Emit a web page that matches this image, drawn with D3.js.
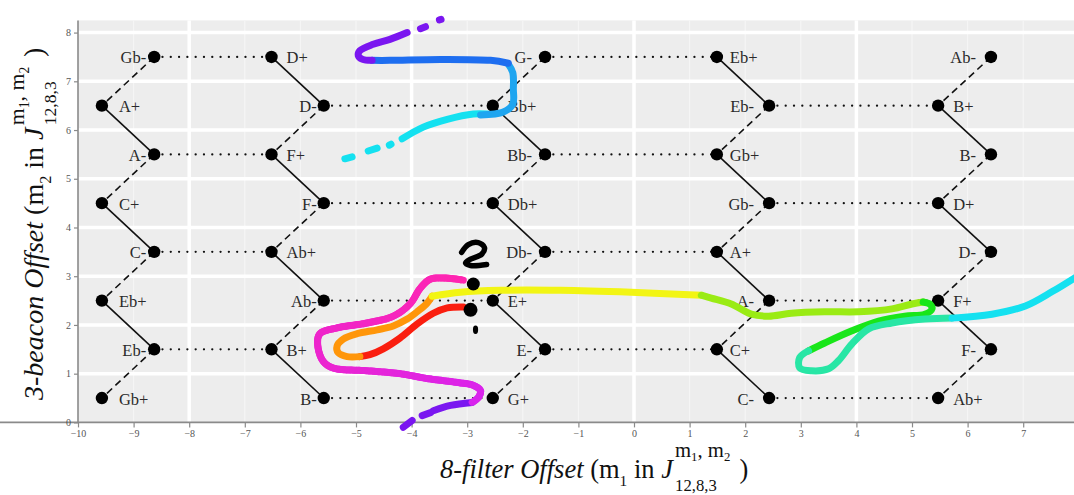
<!DOCTYPE html>
<html><head><meta charset="utf-8">
<script src="https://cdn.jsdelivr.net/npm/d3@7"></script>
<style>body{margin:0;background:#fff;} svg{display:block;}</style>
</head><body>
<svg id="chart" width="1074" height="495"></svg>
<script>
// ---------------- data ----------------
const xTickValues = [-10,-9,-8,-7,-6,-5,-4,-3,-2,-1,0,1,2,3,4,5,6,7];
const yTickValues = [0,1,2,3,4,5,6,7,8];
const xMajorGrid = [-8,-4,0,4];
const yGrid = [1,2,3,4,5,6,7,8];

const nodeLabels = ["A+","C+","Eb+","Gb+", "Gb-","A-","C-","Eb-",
  "D+","F+","Ab+","B+", "D-","F-","Ab-","B-",
  "Bb+","Db+","E+","G+", "G-","Bb-","Db-","E-",
  "Eb+","Gb+","A+","C+", "Eb-","Gb-","A-","C-",
  "B+","D+","F+","Ab+", "Ab-","B-","D-","F-"];
const nodeX = [-9.57,-9.57,-9.57,-9.57, -8.63,-8.63,-8.63,-8.63,
  -6.52,-6.52,-6.52,-6.52, -5.58,-5.58,-5.58,-5.58,
  -2.54,-2.54,-2.54,-2.54, -1.60,-1.60,-1.60,-1.60,
  1.49,1.49,1.49,1.49, 2.43,2.43,2.43,2.43,
  5.47,5.47,5.47,5.47, 6.42,6.42,6.42,6.42];
const nodeY = [6.5,4.5,2.5,0.5, 7.5,5.5,3.5,1.5,
  7.5,5.5,3.5,1.5, 6.5,4.5,2.5,0.5,
  6.5,4.5,2.5,0.5, 7.5,5.5,3.5,1.5,
  7.5,5.5,3.5,1.5, 6.5,4.5,2.5,0.5,
  6.5,4.5,2.5,0.5, 7.5,5.5,3.5,1.5];

const solidEdges = [[0,5],[1,6],[2,7],[8,12],[9,13],[10,14],[11,15],[16,21],[17,22],[18,23],
  [24,28],[25,29],[26,30],[27,31],[32,37],[33,38],[34,39]];
const dashedEdges = [[4,0],[5,1],[6,2],[7,3],[12,9],[13,10],[14,11],[20,16],[21,17],[22,18],[23,19],
  [28,25],[29,26],[30,27],[36,32],[37,33],[38,34],[39,35]];
const dottedEdges = [[4,8],[5,9],[6,10],[7,11],[12,16],[13,17],[14,18],[15,19],
  [20,24],[21,25],[22,26],[23,27],[28,32],[29,33],[30,34],[31,35]];

// hand-drawn trajectory, in data units
const trajRed = [[-3.07,2.37],[-3.36,2.35],[-3.61,2.24],[-3.90,2.02],[-4.21,1.73],[-4.51,1.51],[-4.75,1.39],[-4.93,1.35]];
const trajOrange = [[-4.93,1.35],[-5.16,1.35],[-5.32,1.43],[-5.34,1.57],[-5.23,1.71],[-4.98,1.82],[-4.62,1.90],[-4.33,1.98],[-4.08,2.12],[-3.88,2.29],[-3.72,2.45],[-3.63,2.59]];
const trajYellow = [[-3.63,2.59],[-3.12,2.67],[-2.40,2.71],[-1.32,2.71],[-0.05,2.67],[1.21,2.61]];
const trajChartreuse = [[1.21,2.61],[1.39,2.55],[1.75,2.43],[2.11,2.22],[2.42,2.18],[2.83,2.24],[3.43,2.27],[4.04,2.27],[4.64,2.33],[5.0,2.43],[5.2,2.47]];
const trajGreen = [[5.2,2.47],[5.33,2.42],[5.36,2.33],[5.23,2.22],[4.87,2.18],[4.40,2.08],[3.92,1.88],[3.43,1.63],[3.14,1.47]];
const trajSpring = [[3.14,1.47],[2.98,1.33],[2.98,1.12],[3.19,1.06],[3.50,1.10],[3.68,1.27],[3.92,1.61],[4.22,1.92],[4.64,2.04],[5.23,2.12],[5.72,2.14]];
const trajCyan = [[5.72,2.14],[6.44,2.22],[7.04,2.39],[7.53,2.69],[8.0,3.02]];
const trajCyanDashes = [[[-5.20,5.41],[-5.07,5.45]],[[-4.78,5.57],[-4.62,5.63]],[[-4.40,5.69],[-4.37,5.71]]];
const trajCyanTop = [[-4.17,5.82],[-3.79,6.06],[-3.36,6.22],[-2.89,6.33],[-2.64,6.33]];
const trajSky = [[-2.76,6.31],[-2.35,6.37],[-2.18,6.53],[-2.17,6.84],[-2.18,7.18],[-2.26,7.35]];
const trajBlue = [[-2.26,7.37],[-2.58,7.43],[-3.48,7.45],[-4.39,7.43],[-4.71,7.43]];
const trajViolet = [[-4.71,7.43],[-4.88,7.45],[-4.96,7.53],[-4.93,7.63],[-4.69,7.76],[-4.39,7.86],[-4.08,8.0]];
const trajVioletDots = [[[-3.84,8.08],[-3.75,8.12]],[[-3.50,8.26],[-3.47,8.27]]];
const trajPurpleDashes = [[[-4.15,-0.10],[-3.99,0.04]],[[-3.81,0.14],[-3.66,0.20]]];
const trajPurple = [[-3.61,0.24],[-3.30,0.35],[-2.91,0.41]];
const trajMagenta = [[-2.91,0.41],[-2.80,0.51],[-2.76,0.65],[-2.89,0.76],[-3.18,0.82],[-3.72,0.90],[-4.21,1.0],[-4.80,1.06],[-5.42,1.12],[-5.60,1.27],[-5.69,1.61],[-5.65,1.82],[-5.34,1.94],[-4.80,2.04],[-4.33,2.18],[-4.03,2.43],[-3.84,2.76],[-3.66,2.94],[-3.36,2.96],[-3.07,2.92]];

// black question-mark annotation
const questionStroke = [[-3.10,3.49],[-2.98,3.65],[-2.80,3.69],[-2.69,3.59],[-2.74,3.45],[-2.94,3.35],[-3.03,3.27],[-2.94,3.22],[-2.65,3.24]];
const questionDots = [[-2.89,2.84],[-2.94,2.31],[-2.85,1.90]];

// ---------------- layout / style ----------------
const W = 1074, H = 495;
const x = d3.scaleLinear().domain([-10, 8]).range([78, 1078.8]);
const y = d3.scaleLinear().domain([0, 8.25]).range([422.4, 20.4]);
const svg = d3.select('#chart');
const SERIF = "'Liberation Serif','DejaVu Serif',serif";

const rightLabelOffset = [17, 15, 15, 13, 15];
const leftLabelOffset = [-8, -7, -13, -15, -15];
const dotRadius = [6.5, 7, 3];

// panel
svg.append('rect').attr('x', x(-10)).attr('y', y(8.25)).attr('width', W - x(-10)).attr('height', y(0) - y(8.25)).attr('fill', '#ededed');
// minor vertical grid
svg.append('g').selectAll('line').data(xTickValues.filter(v => !xMajorGrid.includes(v) && v > -10))
  .join('line').attr('x1', d => x(d)).attr('x2', d => x(d)).attr('y1', y(8.25)).attr('y2', y(0))
  .attr('stroke', '#f5f5f5').attr('stroke-width', 1.2);
// major grids
svg.append('g').selectAll('line').data(yGrid).join('line')
  .attr('x1', x(-10)).attr('x2', W).attr('y1', d => y(d)).attr('y2', d => y(d))
  .attr('stroke', '#fff').attr('stroke-width', 3.5);
svg.append('g').selectAll('line').data(xMajorGrid).join('line')
  .attr('x1', d => x(d)).attr('x2', d => x(d)).attr('y1', y(8.25)).attr('y2', y(0))
  .attr('stroke', '#fff').attr('stroke-width', 3.5);

// axes
const xAxis = svg.append('g').attr('transform', `translate(0,${y(0)})`)
  .call(d3.axisBottom(x).tickValues(xTickValues).tickSize(5).tickSizeOuter(0).tickPadding(3));
const yAxis = svg.append('g').attr('transform', `translate(${x(-10)},0)`)
  .call(d3.axisLeft(y).tickValues(yTickValues).tickSize(4).tickSizeOuter(0).tickPadding(3));
[xAxis, yAxis].forEach(a => {
  a.select('.domain').attr('stroke', '#8a8a8a').attr('stroke-width', 1.6);
  a.selectAll('.tick line').attr('stroke', '#8a8a8a').attr('stroke-width', 1.2);
  a.selectAll('.tick text').attr('fill', '#555').style('font-family', SERIF).style('font-size', '10px');
});
yAxis.select('.domain').attr('d', `M0,${y(8.25)}V${y(0)}`);
xAxis.select('.domain').attr('d', `M0,0H${W}`);

// edges
const eg = svg.append('g').attr('fill', 'none').attr('stroke', '#111');
eg.selectAll('.solid').data(solidEdges).join('line').attr('class', 'solid')
  .attr('x1', d => x(nodeX[d[0]])).attr('y1', d => y(nodeY[d[0]]))
  .attr('x2', d => x(nodeX[d[1]])).attr('y2', d => y(nodeY[d[1]]))
  .attr('stroke-width', 1.6);
eg.selectAll('.dashed').data(dashedEdges).join('line').attr('class', 'dashed')
  .attr('x1', d => x(nodeX[d[0]])).attr('y1', d => y(nodeY[d[0]]))
  .attr('x2', d => x(nodeX[d[1]])).attr('y2', d => y(nodeY[d[1]]))
  .attr('stroke-width', 1.6).attr('stroke-dasharray', '7,4.5');
eg.selectAll('.dotted').data(dottedEdges).join('line').attr('class', 'dotted')
  .attr('x1', d => x(nodeX[d[0]])).attr('y1', d => y(nodeY[d[0]]))
  .attr('x2', d => x(nodeX[d[1]])).attr('y2', d => y(nodeY[d[1]]))
  .attr('stroke-width', 2.3).attr('stroke-linecap', 'round').attr('stroke-dasharray', '0,8.3');

// nodes
svg.append('g').selectAll('circle').data(nodeLabels).join('circle')
  .attr('cx', (d, i) => x(nodeX[i])).attr('cy', (d, i) => y(nodeY[i])).attr('r', 6.2).attr('fill', '#000');
// labels
svg.append('g').selectAll('text').data(nodeLabels).join('text')
  .attr('x', (d, i) => {
    const c = Math.floor(i / 4);
    return x(nodeX[i]) + (c % 2 === 0 ? rightLabelOffset[c / 2] : leftLabelOffset[(c - 1) / 2]);
  })
  .attr('y', (d, i) => y(nodeY[i]) + 6.5)
  .attr('text-anchor', (d, i) => (Math.floor(i / 4) % 2 === 0 ? 'start' : 'end'))
  .style('font-family', SERIF).style('font-size', '16.5px').attr('fill', '#2a2a2a')
  .text(d => d);

// trajectory
const line = d3.line().x(d => x(d[0])).y(d => y(d[1])).curve(d3.curveCatmullRom.alpha(0.5));
const tg = svg.append('g').attr('fill', 'none').attr('stroke-linecap', 'round').attr('stroke-linejoin', 'round');
function stroke(pts, c0, c1, w) {
  const p = tg.append('path').attr('d', line(pts)).attr('stroke-width', w);
  if (c0 === c1) { p.attr('stroke', c0); return; }
  const node = p.node(), L = node.getTotalLength();
  const n = Math.max(2, Math.ceil(L / 2.5));
  const interp = d3.interpolateRgb(c0, c1);
  let prev = node.getPointAtLength(0);
  const segs = [];
  for (let i = 1; i <= n; i++) {
    const q = node.getPointAtLength(L * i / n);
    segs.push([prev, q, interp((i - 0.5) / n)]);
    prev = q;
  }
  p.remove();
  tg.append('g').selectAll('line').data(segs).join('line')
    .attr('x1', s => s[0].x).attr('y1', s => s[0].y).attr('x2', s => s[1].x).attr('y2', s => s[1].y)
    .attr('stroke', s => s[2]).attr('stroke-width', w);
}
const TW = 7;
stroke(trajPurple, '#7a16f0', '#7a16f0', TW);
trajPurpleDashes.forEach(p => stroke(p, '#7a16f0', '#7a16f0', TW));
stroke(trajMagenta, '#d824ee', '#ff26b0', TW);
stroke(trajRed, '#fa1e0f', '#fa1e0f', TW);
stroke(trajOrange, '#ff960a', '#ff960a', TW);
stroke(trajYellow, '#f2f514', '#f2f514', TW);
stroke(trajChartreuse, '#9aeb14', '#9aeb14', TW);
stroke(trajGreen, '#19e619', '#19e619', TW);
stroke(trajSpring, '#28e6a5', '#28e6a5', TW);
stroke(trajCyan, '#14e1f0', '#14e1f0', TW);
trajCyanDashes.forEach(p => stroke(p, '#14e1f0', '#14e1f0', TW));
stroke(trajCyanTop, '#14e1f0', '#14e1f0', TW);
stroke(trajSky, '#1ea5f0', '#1ea5f0', TW);
stroke(trajBlue, '#1e6ef0', '#1e6ef0', TW);
stroke(trajViolet, '#7a16f0', '#7a16f0', TW);
trajVioletDots.forEach(p => stroke(p, '#7a16f0', '#7a16f0', TW));

// question mark annotation
svg.append('path').attr('d', line(questionStroke)).attr('fill', 'none').attr('stroke', '#000')
  .attr('stroke-width', 5.5).attr('stroke-linecap', 'round').attr('stroke-linejoin', 'round');
svg.append('g').selectAll('ellipse').data(questionDots).join('ellipse')
  .attr('cx', d => x(d[0])).attr('cy', d => y(d[1]))
  .attr('rx', (d, i) => i === 2 ? 2.6 : dotRadius[i]).attr('ry', (d, i) => i === 2 ? 4.2 : dotRadius[i])
  .attr('fill', '#000');

// axis titles
function mathTitle(g, fs, italicText, idx, supShift, subShift) {
  const t = g.append('text').attr('x', 0).attr('y', 0).style('font-family', SERIF).style('font-size', fs + 'px').attr('fill', '#111');
  const parts = [];
  parts.push(t.append('tspan').style('font-style', 'italic').text(italicText));
  parts.push(t.append('tspan').text('\u00a0(m'));
  parts.push(t.append('tspan').style('font-size', (0.58 * fs) + 'px').attr('dy', 0.3 * fs).text(idx));
  parts.push(t.append('tspan').attr('dy', -0.3 * fs).text('\u00a0in\u00a0'));
  parts.push(t.append('tspan').style('font-style', 'italic').text('J'));
  let w = 0;
  parts.forEach(p => { w += p.node().getComputedTextLength(); });
  const xs = w + 0.08 * fs;
  const supFs = 0.78 * fs, supY = supShift * fs;
  const s1 = t.append('tspan').attr('x', xs).attr('y', supY).style('font-size', supFs + 'px').text('m');
  const s2 = t.append('tspan').attr('dy', 0.22 * supFs).style('font-size', (0.62 * supFs) + 'px').text('1');
  const s3 = t.append('tspan').attr('dy', -0.22 * supFs).style('font-size', supFs + 'px').text(',\u00a0m');
  const s4 = t.append('tspan').attr('dy', 0.22 * supFs).style('font-size', (0.62 * supFs) + 'px').text('2');
  const supW = [s1, s2, s3, s4].reduce((a, s) => a + s.node().getComputedTextLength(), 0);
  const sb = t.append('tspan').attr('x', xs).attr('y', subShift * fs).style('font-size', (0.63 * fs) + 'px').text('12,8,3');
  const subW = sb.node().getComputedTextLength();
  t.append('tspan').attr('x', xs + Math.max(supW, subW) + 0.35 * fs).attr('y', 0).text(')');
}
mathTitle(svg.append('g').attr('transform', 'translate(440,478)'), 26.5, '8-filter Offset', '1', -0.8, 0.48);
mathTitle(svg.append('g').attr('transform', 'translate(43,400) rotate(-90)'), 28, '3-beacon Offset', '2', -0.68, 0.45);
</script>
</body></html>
